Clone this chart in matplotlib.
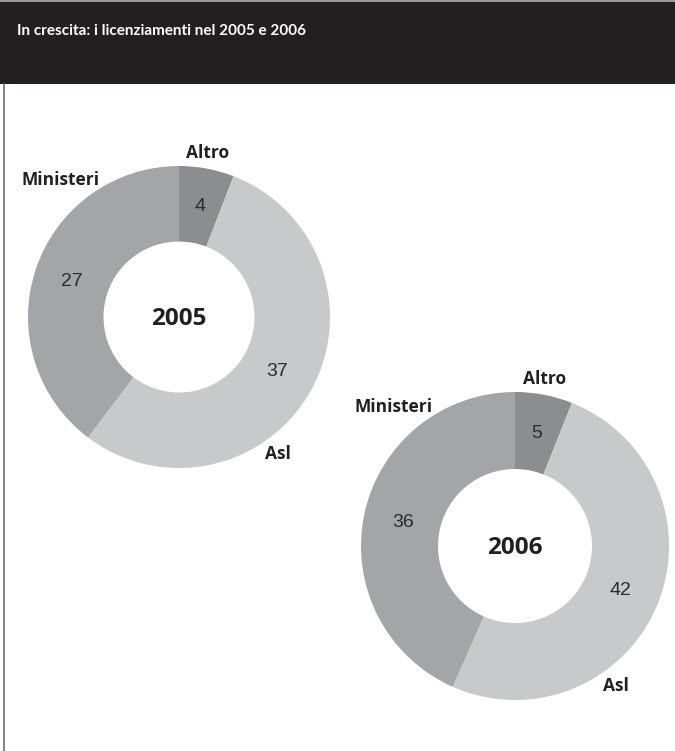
import matplotlib
matplotlib.use('Agg')
import matplotlib.pyplot as plt
import numpy as np
from matplotlib.patches import Rectangle

# data
categories = ['Altro', 'Asl', 'Ministeri']
values_2005 = [4, 37, 27]
values_2006 = [5, 42, 36]
years = ['2005', '2006']
title = 'In crescita: i licenziamenti nel 2005 e 2006'

# colours
seg_colors = ['#8c8d90', '#c8c9cb', '#a4a5a8']
dark = '#231f20'

W, H = 675, 751
fig = plt.figure(figsize=(W / 100, H / 100), dpi=100)
fig.patch.set_facecolor('white')

# header band
fig.patches.append(Rectangle((0, 1 - 84 / H), 1, 84 / H, transform=fig.transFigure,
                             facecolor=dark, edgecolor='none', zorder=0))
fig.patches.append(Rectangle((0, 1 - 2 / H), 1, 2 / H, transform=fig.transFigure,
                             facecolor='#9a9a9a', edgecolor='none', zorder=1))
# left border
fig.lines.append(plt.Line2D([3.5 / W, 3.5 / W], [0, 1 - 84 / H], transform=fig.transFigure,
                            color='#6d6d6d', lw=1.2))
fig.text(17 / W, 1 - 31 / H, title, color='white', fontsize=11, fontweight='bold',
         family='Lato', va='center', ha='left')

ax = fig.add_axes([0, 0, 1, 1])

# donut layout (pixel coords, y measured from top)
centers = [(179, 317), (515, 546)]
radii = [151, 154]
ring = 0.5
label_ang = [10, 144, 319]       # degrees clockwise from top
label_rad = [1.10, 1.12, 1.20]

for vals, yr, (cx, cy), r in zip([values_2005, values_2006], years, centers, radii):
    c = (cx, H - cy)
    wedges, texts, autot = ax.pie(vals, colors=seg_colors, startangle=90, counterclock=False,
                                  center=c, radius=r, autopct=lambda p, v=vals: '%d' % round(p * sum(v) / 100),
                                  pctdistance=0.745, wedgeprops=dict(width=r * ring, linewidth=0),
                                  textprops=dict(fontsize=14, color='#2b2b2b', family='Liberation Sans'))
    ax.text(c[0], c[1] - 2, yr, ha='center', va='center', fontsize=17.5, fontweight='bold',
            color=dark, family='Open Sans')
    for name, a, rf in zip(categories, label_ang, label_rad):
        t = np.deg2rad(a)
        ax.text(c[0] + r * rf * np.sin(t), c[1] + r * rf * np.cos(t), name, ha='center', va='center',
                fontsize=12.5, fontweight='bold', color=dark, family='Open Sans')

ax.set_xlim(0, W)
ax.set_ylim(0, H)
ax.set_aspect('equal')
ax.axis('off')

fig.savefig('out.png', dpi=100, facecolor='white')
